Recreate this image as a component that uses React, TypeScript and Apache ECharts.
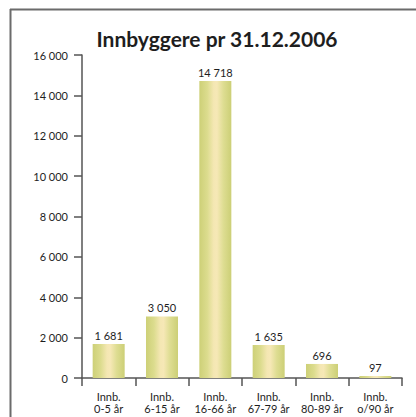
import React, { useEffect, useRef } from "react";
import * as echarts from "echarts";

const title = "Innbyggere pr 31.12.2006";
const categories = ["Innb.\n0-5 år", "Innb.\n6-15 år", "Innb.\n16-66 år", "Innb.\n67-79 år", "Innb.\n80-89 år", "Innb.\no/90 år"];
const values = [1681, 3050, 14718, 1635, 696, 97];
const yMin = 0;
const yMax = 16000;
const yInterval = 2000;

const fmt = (v: number) => {
  const s = String(Math.round(v));
  return s.replace(/\B(?=(\d{3})+(?!\d))/g, " ");
};

const FONT = "Lato, 'Open Sans', sans-serif";

export default function App() {
  const ref = useRef<HTMLDivElement>(null);
  useEffect(() => {
    if (!ref.current) return;
    const chart = echarts.init(ref.current, null, { renderer: "svg" });
    const barColor = new echarts.graphic.LinearGradient(0, 0, 1, 0, [
      { offset: 0, color: "#cdd077" },
      { offset: 0.25, color: "#dcdc8e" },
      { offset: 0.45, color: "#f4e7b3" },
      { offset: 0.55, color: "#f6e8b6" },
      { offset: 0.75, color: "#dedd92" },
      { offset: 1, color: "#cccf76" },
    ]);
    chart.setOption({
      animation: false,
      backgroundColor: "#ffffff",
      title: {
        text: title,
        left: 212,
        textAlign: "center",
        top: 23,
        textStyle: { fontFamily: FONT, fontSize: 21, fontWeight: "bold", color: "#1e1e1e" },
      },
      graphic: [
        { type: "line", shape: { x1: 10, y1: 9.5, x2: 416, y2: 9.5 }, style: { stroke: "#6b6b6b", lineWidth: 2 } },
        { type: "line", shape: { x1: 10.5, y1: 9, x2: 10.5, y2: 417 }, style: { stroke: "#6b6b6b", lineWidth: 2 } },
      ],
      grid: { left: 82, right: 14, top: 55, bottom: 39, containLabel: false },
      xAxis: {
        type: "category",
        data: categories,
        axisLine: { lineStyle: { color: "#555555", width: 1.5 } },
        axisTick: { show: true, length: 8, lineStyle: { color: "#555555", width: 1.5 } },
        axisLabel: {
          fontFamily: FONT,
          fontSize: 11,
          color: "#1e1e1e",
          margin: 12,
          lineHeight: 12,
          interval: 0,
        },
      },
      yAxis: {
        type: "value",
        min: yMin,
        max: yMax,
        interval: yInterval,
        splitLine: { show: false },
        axisLine: { show: true, lineStyle: { color: "#555555", width: 1.5 } },
        axisTick: { show: true, length: 8, lineStyle: { color: "#555555", width: 1.5 } },
        axisLabel: {
          fontFamily: FONT,
          fontSize: 11,
          color: "#1e1e1e",
          margin: 14,
          formatter: (v: number) => fmt(v),
        },
      },
      series: [
        {
          type: "bar",
          data: values,
          barWidth: "60%",
          itemStyle: { color: barColor },
          label: {
            show: true,
            position: "top",
            distance: 3,
            fontFamily: FONT,
            fontSize: 11,
            color: "#1e1e1e",
            formatter: (p: any) => fmt(p.value),
          },
        },
      ],
    });
    return () => chart.dispose();
  }, []);
  return (
    <div
      ref={ref}
      style={{ position: "fixed", left: 0, top: 0, width: 416, height: 417, background: "#fff" }}
    />
  );
}
